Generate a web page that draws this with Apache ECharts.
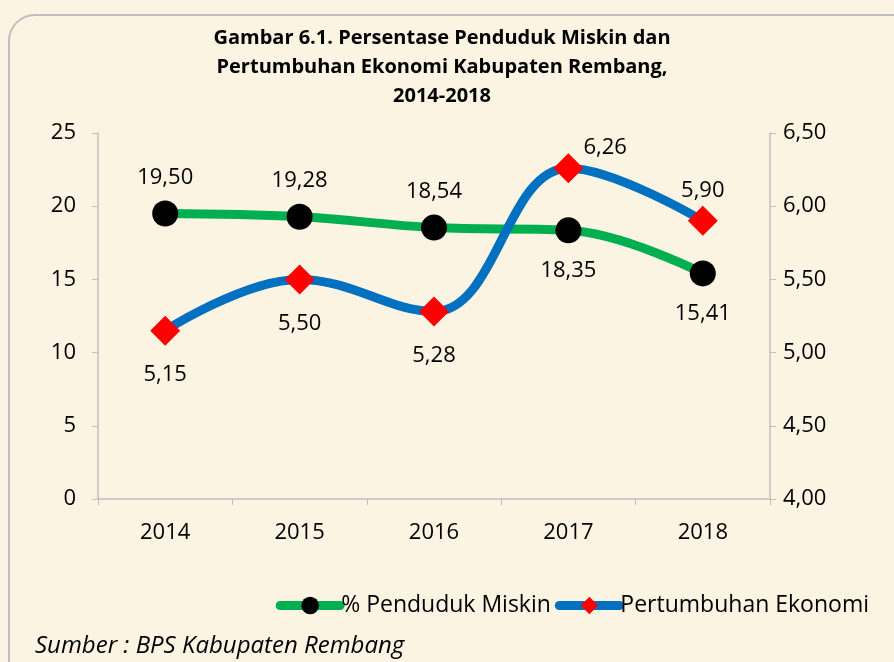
<!DOCTYPE html>
<html>
<head>
<meta charset="utf-8">
<script src="https://cdn.jsdelivr.net/npm/echarts@6/dist/echarts.min.js"></script>
<style>
html, body { margin: 0; padding: 0; background: #fcf4e3; }
#main { width: 894px; height: 662px; }
</style>
</head>
<body>
<div id="main"></div>
<script>
var years = ['2014', '2015', '2016', '2017', '2018'];
var miskin = [19.50, 19.28, 18.54, 18.35, 15.41];
var ekonomi = [5.15, 5.50, 5.28, 6.26, 5.90];
var miskinPos = ['top', 'top', 'top', 'bottom', 'bottom'];
var ekonomiPos = ['bottom', 'bottom', 'bottom', 'right', 'top'];

var font = 'Open Sans';
var fs = 22;
function comma(v) { return v.toFixed(2).replace('.', ','); }

var myChart = echarts.init(document.getElementById('main'));

var miskinData = miskin.map(function (v, i) {
    return { value: v, label: { position: miskinPos[i], distance: miskinPos[i] === 'top' ? 12 : 16 } };
});
var ekonomiData = ekonomi.map(function (v, i) {
    var lab = { position: ekonomiPos[i], distance: 18 };
    if (ekonomiPos[i] === 'right') { lab.distance = 0; lab.offset = [0, -20]; }
    if (ekonomiPos[i] === 'top') { lab.distance = 4; }
    return { value: v, label: lab };
});

myChart.setOption({
    backgroundColor: '#fcf4e3',
    textStyle: { fontFamily: font },
    title: {
        text: 'Gambar 6.1. Persentase Penduduk Miskin dan\nPertumbuhan Ekonomi Kabupaten Rembang,\n2014-2018',
        left: 437,
        top: 19,
        textAlign: 'center',
        textStyle: {
            fontFamily: font,
            fontSize: 20,
            fontWeight: 'bold',
            color: '#000',
            lineHeight: 29
        }
    },
    graphic: [{
        type: 'rect',
        shape: { x: 9, y: 15, width: 910, height: 670, r: 26 },
        style: { fill: 'none', stroke: '#bfbfbf', lineWidth: 2 },
        silent: true
    }, {
        type: 'text',
        left: 35,
        top: 634,
        style: {
            text: 'Sumber : BPS Kabupaten Rembang',
            fontFamily: font,
            fontStyle: 'italic',
            fontSize: 24,
            fill: '#000'
        }
    }],
    legend: {
        right: 20,
        top: 589,
        itemWidth: 60,
        itemHeight: 22,
        itemGap: 4,
        lineStyle: { width: 9, cap: 'round' },
        textStyle: { fontSize: 23, color: '#000', padding: [0, 0, 0, -4] },
        data: ['% Penduduk Miskin', 'Pertumbuhan Ekonomi']
    },
    grid: {
        left: 98,
        right: 124,
        top: 133,
        bottom: 163
    },
    xAxis: {
        type: 'category',
        data: years,
        boundaryGap: true,
        axisLine: { lineStyle: { color: '#bfbfbf', width: 1.5 } },
        axisTick: { show: true, length: 6, lineStyle: { color: '#bfbfbf' } },
        axisLabel: { fontSize: fs, color: '#000', margin: 23 }
    },
    yAxis: [{
        type: 'value',
        min: 0,
        max: 25,
        interval: 5,
        splitLine: { show: false },
        axisLine: { show: true, lineStyle: { color: '#bfbfbf', width: 1.5 } },
        axisTick: { show: true, length: 6, lineStyle: { color: '#bfbfbf' } },
        axisLabel: { fontSize: fs, color: '#000', margin: 22 }
    }, {
        type: 'value',
        min: 4,
        max: 6.5,
        interval: 0.5,
        splitLine: { show: false },
        axisLine: { show: true, lineStyle: { color: '#bfbfbf', width: 1.5 } },
        axisTick: { show: true, length: 6, lineStyle: { color: '#bfbfbf' } },
        axisLabel: { fontSize: fs, color: '#000', margin: 13, formatter: comma }
    }],
    series: [{
        name: '% Penduduk Miskin',
        type: 'line',
        yAxisIndex: 0,
        smooth: 0.4,
        data: miskinData,
        lineStyle: { color: '#00b050', width: 9 },
        itemStyle: { color: '#000' },
        symbol: 'circle',
        symbolSize: 26,
        label: {
            show: true,
            fontSize: fs,
            color: '#000',
            formatter: function (p) { return comma(p.value); }
        },
        z: 3
    }, {
        name: 'Pertumbuhan Ekonomi',
        type: 'line',
        yAxisIndex: 1,
        smooth: 0.4,
        data: ekonomiData,
        lineStyle: { color: '#0070c0', width: 9 },
        itemStyle: { color: '#ff0000' },
        symbol: 'diamond',
        symbolSize: 30,
        label: {
            show: true,
            fontSize: fs,
            color: '#000',
            formatter: function (p) { return comma(p.value); }
        },
        z: 4
    }]
});
</script>
</body>
</html>
